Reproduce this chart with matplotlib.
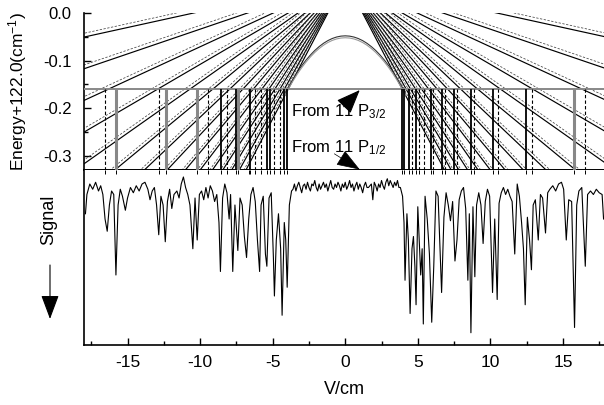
import matplotlib
matplotlib.use('Agg')
import matplotlib.pyplot as plt

plt.rcParams['font.family'] = ['Liberation Sans', 'DejaVu Sans']
plt.rcParams['mathtext.fontset'] = 'custom'
plt.rcParams['mathtext.rm'] = 'Liberation Sans'
plt.rcParams['mathtext.it'] = 'Liberation Sans:italic'
plt.rcParams['axes.unicode_minus'] = False

# ---------------- data ----------------
# Stark fan (top panel): zero-field energy and slopes (cm^-1 per V/cm)
fan_E0 = 0.07
fan_slopes = [0.0067, 0.0104, 0.0141, 0.0178, 0.0215, 0.0252, 0.0289, 0.0326,
              0.0363, 0.0400, 0.0437, 0.0474, 0.0511, 0.0548, 0.0585]
fan_dash_offset = 0.008
# 11P level, quadratic Stark shift
parab_E0 = -0.048
parab_curv = 0.0070
parab_F = [-4.15, -3.9, -3.6, -3.3, -3.0, -2.7, -2.4, -2.1, -1.8, -1.5, -1.2, -0.9,
           -0.6, -0.3, 0.0, 0.3, 0.6, 0.9, 1.2, 1.5, 1.8, 2.1, 2.4, 2.7, 3.0, 3.3,
           3.6, 3.9, 4.15]
level_P32 = -0.16
level_P12 = -0.33

# resonance positions (V/cm)
res_solid = [-8.59, -7.56, -6.58, -5.38, -5.15, -4.24, -4.0,
             3.90, 4.05, 4.42, 4.88, 5.89, 6.65, 7.49, 8.66, 10.19, 12.44]
res_gray = [-15.8, -12.37, -10.2, -7.37, 15.74]
res_dash = [-16.54, -12.83, -9.46, -8.13, -6.65, -6.25, -5.79, -4.93, -4.52,
            4.58, 5.11, 5.43, 6.07, 6.87, 7.68, 8.87, 10.54, 12.87, 16.52]

# measured signal trace (bottom panel): left resonance region
sigL_V = [-17.9, -17.8, -17.6, -17.4, -17.2, -17.0, -16.85, -16.7, -16.55, -16.4,
          -16.25, -16.1, -15.95, -15.8, -15.65, -15.5, -15.35, -15.15, -15.0, -14.8,
          -14.6, -14.4, -14.2, -14.0, -13.8, -13.6, -13.45, -13.3, -13.15, -13.0,
          -12.85, -12.7, -12.55, -12.4, -12.25, -12.1, -11.95, -11.8, -11.6, -11.45,
          -11.3, -11.15, -11.0, -10.85, -10.7, -10.5, -10.35, -10.2, -10.05, -9.9,
          -9.75, -9.6, -9.45, -9.3, -9.15, -9.0, -8.85, -8.7, -8.6, -8.45,
          -8.3, -8.15, -8.0, -7.9, -7.75, -7.6, -7.4, -7.25, -7.1, -6.95,
          -6.8, -6.65, -6.5, -6.35, -6.2, -6.05, -5.9, -5.8, -5.65, -5.5,
          -5.4, -5.25, -5.1, -4.95, -4.88, -4.75, -4.6, -4.45, -4.35, -4.2,
          -4.1, -4.0, -3.85, -3.7]
sigL_S = [0.75, 0.86, 0.92, 0.89, 0.93, 0.88, 0.91, 0.86, 0.72, 0.65,
          0.80, 0.88, 0.86, 0.40, 0.80, 0.89, 0.85, 0.77, 0.84, 0.90,
          0.87, 0.91, 0.88, 0.92, 0.93, 0.89, 0.83, 0.88, 0.90, 0.80,
          0.63, 0.85, 0.80, 0.59, 0.82, 0.89, 0.78, 0.86, 0.88, 0.84,
          0.92, 0.96, 0.90, 0.86, 0.80, 0.55, 0.84, 0.60, 0.86, 0.88,
          0.83, 0.90, 0.84, 0.91, 0.88, 0.82, 0.86, 0.70, 0.42, 0.84,
          0.92, 0.87, 0.72, 0.86, 0.42, 0.80, 0.54, 0.84, 0.80, 0.62,
          0.50, 0.72, 0.86, 0.90, 0.82, 0.60, 0.42, 0.80, 0.85, 0.52,
          0.45, 0.84, 0.87, 0.50, 0.28, 0.60, 0.75, 0.55, 0.17, 0.70,
          0.60, 0.33, 0.80, 0.88]
# flat (no-resonance) region, sampled every 0.1 V/cm from -3.6
sigC_S = [0.89, 0.92, 0.88, 0.91, 0.93, 0.90, 0.87, 0.91, 0.92, 0.89,
          0.93, 0.90, 0.88, 0.92, 0.91, 0.94, 0.90, 0.88, 0.92, 0.89,
          0.91, 0.93, 0.90, 0.92, 0.88, 0.91, 0.94, 0.90, 0.89, 0.92,
          0.90, 0.93, 0.91, 0.88, 0.92, 0.90, 0.93, 0.89, 0.91, 0.94,
          0.90, 0.92, 0.88, 0.91, 0.93, 0.89, 0.92, 0.90, 0.87, 0.91,
          0.93, 0.90, 0.90, 0.91, 0.92, 0.83, 0.93, 0.91, 0.88, 0.92,
          0.90, 0.94, 0.91, 0.89, 0.93, 0.95, 0.91, 0.94, 0.92, 0.90,
          0.93, 0.91, 0.94, 0.90]
sigC_V = [round(-3.6 + 0.1 * i, 1) for i in range(len(sigC_S))]
# right resonance region
sigR_V = [3.8, 3.95, 4.05, 4.12, 4.25, 4.35, 4.47, 4.6, 4.7, 4.8,
          4.88, 5.0, 5.1, 5.2, 5.3, 5.38, 5.5, 5.65, 5.8, 5.96,
          6.1, 6.25, 6.4, 6.55, 6.64, 6.8, 6.95, 7.1, 7.25, 7.4,
          7.56, 7.7, 7.85, 8.0, 8.15, 8.3, 8.45, 8.55, 8.66, 8.8,
          8.93, 9.05, 9.2, 9.35, 9.5, 9.65, 9.8, 9.95, 10.15, 10.3,
          10.47, 10.6, 10.75, 10.9, 11.05, 11.2, 11.35, 11.5, 11.68, 11.85,
          12.0, 12.15, 12.28, 12.4, 12.55, 12.7, 12.83, 12.95, 13.1, 13.3,
          13.45, 13.6, 13.8, 13.95, 14.1, 14.3, 14.5, 14.7, 14.9, 15.05,
          15.23, 15.4, 15.6, 15.8, 15.95, 16.1, 16.3, 16.54, 16.7, 16.9,
          17.1, 17.3, 17.5, 17.7, 17.8]
sigR_S = [0.90, 0.85, 0.70, 0.37, 0.75, 0.60, 0.18, 0.55, 0.62, 0.45,
          0.23, 0.79, 0.60, 0.40, 0.55, 0.12, 0.85, 0.72, 0.52, 0.13,
          0.45, 0.88, 0.85, 0.50, 0.30, 0.73, 0.87, 0.80, 0.71, 0.82,
          0.48, 0.60, 0.83, 0.88, 0.90, 0.78, 0.37, 0.75, 0.07, 0.79,
          0.39, 0.80, 0.87, 0.80, 0.58, 0.82, 0.89, 0.85, 0.30, 0.72,
          0.26, 0.81, 0.87, 0.90, 0.86, 0.89, 0.85, 0.82, 0.52, 0.92,
          0.85, 0.70, 0.55, 0.23, 0.73, 0.60, 0.43, 0.80, 0.83, 0.60,
          0.86, 0.84, 0.64, 0.87, 0.89, 0.91, 0.88, 0.92, 0.93, 0.89,
          0.60, 0.83, 0.82, 0.10, 0.80, 0.88, 0.90, 0.45, 0.86, 0.88,
          0.86, 0.89, 0.87, 0.86, 0.72]

x_ticks = [-15, -10, -5, 0, 5, 10, 15]
x_ticklabels = ['-15', '-10', '-5', '0', '5', '10', '15']
y_ticks = [0.0, -0.1, -0.2, -0.3]
y_ticklabels = ['0.0', '-0.1', '-0.2', '-0.3']

XMIN, XMAX = -18.0, 17.83

# ---------------- figure ----------------
W, H = 604, 405
fig = plt.figure(figsize=(W / 100, H / 100), dpi=100)
ax1 = fig.add_axes([84 / W, 1 - 170 / H, 520 / W, 157 / H])
ax2 = fig.add_axes([84 / W, 1 - 345 / H, 520 / W, 175 / H])

# ---- top panel ----
for s in fan_slopes:
    for sgn in (-1, 1):
        ax1.plot([0, sgn * 18.5], [fan_E0, fan_E0 - 18.5 * s], color='k', lw=0.85)
        ax1.plot([0, sgn * 18.5], [fan_E0 + fan_dash_offset, fan_E0 + fan_dash_offset - 18.5 * s],
                 color='#444444', lw=0.55, ls=(0, (3, 2)))
pE1 = [parab_E0 - parab_curv * f * f for f in parab_F]
pE2 = [parab_E0 - 0.004 - parab_curv * f * f for f in parab_F]
ax1.plot(parab_F, pE1, color='#333333', lw=0.8)
ax1.plot(parab_F, pE2, color='#999999', lw=0.8)

ax1.axhline(level_P32, color='#888888', lw=1.4, zorder=3)
ax1.vlines(res_solid, level_P12, level_P32, color='k', lw=1.3, zorder=3)
ax1.vlines(res_gray, level_P12, level_P32, color='#888888', lw=2.2, zorder=3)
ax1.vlines(res_dash, level_P12, level_P32, color='k', lw=0.8, linestyles=(0, (3, 2)), zorder=3)

ax1.text(-3.72, -0.208, 'From 11 P$_{3/2}$', fontsize=12, va='center', ha='left')
ax1.text(-3.72, -0.282, 'From 11 P$_{1/2}$', fontsize=12, va='center', ha='left')
ax1.annotate('', xy=(1.0, -0.162), xytext=(-0.1, -0.197),
             arrowprops=dict(arrowstyle='-|>,head_length=0.75,head_width=0.3',
                             color='k', lw=0.8, mutation_scale=20,
                             shrinkA=0, shrinkB=0))
ax1.annotate('', xy=(1.0, -0.329), xytext=(-0.75, -0.296),
             arrowprops=dict(arrowstyle='-|>,head_length=0.75,head_width=0.27',
                             color='k', lw=0.5, mutation_scale=20,
                             shrinkA=0, shrinkB=0), annotation_clip=False)

ax1.set_xlim(XMIN, XMAX)
ax1.set_ylim(level_P12, 0.0)
ax1.set_xticks([])
ax1.set_yticks(y_ticks)
ax1.set_yticklabels(y_ticklabels, fontsize=12)
ax1.set_yticks([-0.05, -0.15, -0.25], minor=True)
ax1.tick_params(axis='y', which='major', direction='in', length=5, width=1, pad=9)
ax1.tick_params(axis='y', which='minor', direction='in', length=3, width=1)
for sp in ('top', 'right'):
    ax1.spines[sp].set_visible(False)
ax1.spines['left'].set_linewidth(1.2)
ax1.spines['bottom'].set_linewidth(1.4)

# ---- bottom panel ----
ax2.plot(sigL_V + sigC_V + sigR_V, sigL_S + sigC_S + sigR_S, color='k', lw=0.8)
ax2.vlines(res_solid + res_gray + res_dash, 0.975, 1.0,
           transform=ax2.get_xaxis_transform(), color='k', lw=0.7)
ax2.set_xlim(XMIN, XMAX)
ax2.set_ylim(0, 1)
ax2.set_yticks([])
ax2.set_xticks(x_ticks)
ax2.set_xticklabels(x_ticklabels, fontsize=12.5)
ax2.set_xticks([-17.5, -12.5, -7.5, -2.5, 2.5, 7.5, 12.5, 17.5], minor=True)
ax2.tick_params(axis='x', which='major', direction='in', length=5, width=1, pad=7)
ax2.tick_params(axis='x', which='minor', direction='in', length=3, width=1)
for sp in ('top', 'right'):
    ax2.spines[sp].set_visible(False)
ax2.spines['left'].set_linewidth(1.2)
ax2.spines['bottom'].set_linewidth(1.2)
ax2.set_xlabel('V/cm', fontsize=13, labelpad=8)

# labels
fig.text(18 / W, 1 - 92 / H, 'Energy+122.0(cm$^{-1}$)', rotation=90,
         ha='center', va='center', fontsize=12.5)
fig.text(49 / W, 1 - 220 / H, 'Signal', rotation=90, ha='center', va='center', fontsize=13)
fig.add_artist(matplotlib.patches.FancyArrowPatch(
    (50 / W, 1 - 265 / H), (50 / W, 1 - 319 / H), transform=fig.transFigure,
    arrowstyle='-|>,head_length=0.75,head_width=0.28', mutation_scale=20,
    color='k', lw=0.8, shrinkA=0, shrinkB=0))

fig.savefig('out.png', dpi=100)
